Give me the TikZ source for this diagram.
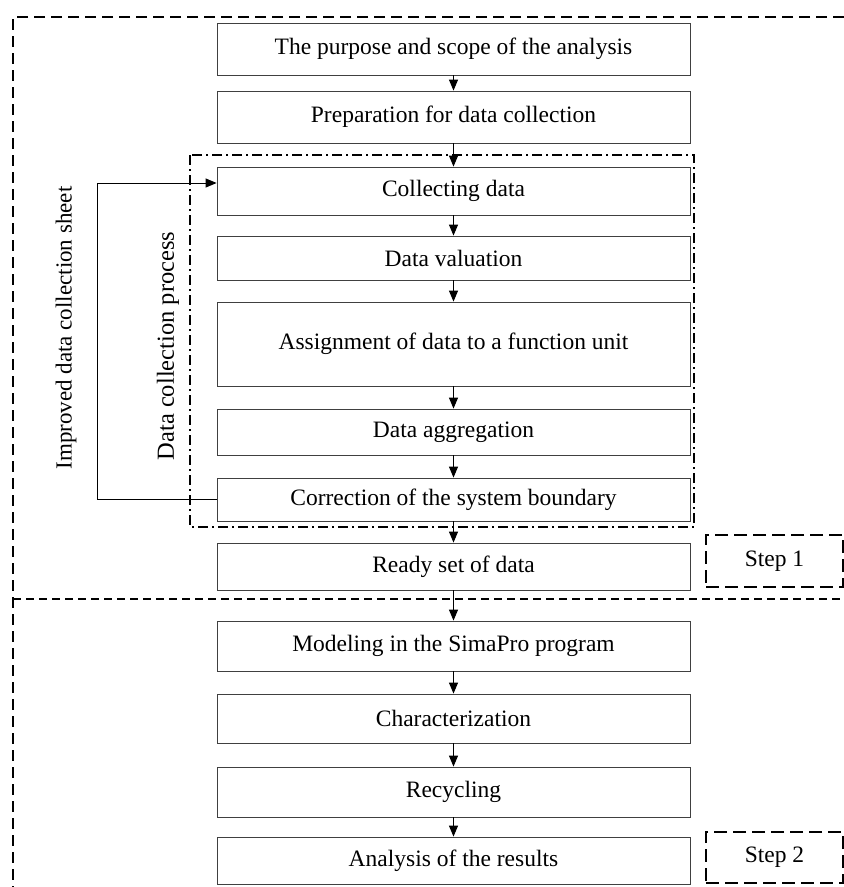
\documentclass[tikz,border=0pt]{standalone}
\usepackage{fontspec}
\setmainfont{Liberation Serif}
\usetikzlibrary{arrows.meta}
\tikzset{
  stage/.style={
    draw=black!75,
    line width=0.8pt,
    minimum width=473pt,
    inner sep=0pt,
    font=\fontsize{23.5}{28}\selectfont
  },
  flow/.style={
    line width=1pt,
    -{Triangle[length=11pt,width=9pt]}
  },
  outer frame/.style={
    line width=2.2pt,
    dash pattern=on 11pt off 6pt
  },
  process frame/.style={
    line width=2pt,
    dash pattern=on 10pt off 4pt on 2pt off 4pt
  },
  step label/.style={
    draw,
    line width=2.2pt,
    dash pattern=on 13pt off 6pt,
    minimum width=137pt,
    inner sep=0pt,
    font=\fontsize{23.5}{28}\selectfont
  },
  side label/.style={
    rotate=90,
    font=\fontsize{23}{28}\selectfont
  }
}

\begin{document}
\begin{tikzpicture}[x=1pt,y=-1pt]
  \useasboundingbox (0,0) rectangle (844,887);
  % frames
  \draw[outer frame] (844,17) -- (13,17) -- (13,887);
  \draw[process frame] (190,155) rectangle (694,527);
  \draw[line width=1.2pt,dash pattern=on 8pt off 5pt] (13,599) -- (840,599);
  % stages
  \node[stage,minimum height=52pt] (purpose) at (453.5,49) {The purpose and scope of the analysis};
  \node[stage,minimum height=52pt] (prepare) at (453.5,117) {Preparation for data collection};
  \node[stage,minimum height=48pt] (collect) at (453.5,191) {Collecting data};
  \node[stage,minimum height=44pt] (valuate) at (453.5,258) {Data valuation};
  \node[stage,minimum height=84pt] (assign) at (453.5,344) {Assignment of data to a function unit};
  \node[stage,minimum height=46pt] (aggregate) at (453.5,432) {Data aggregation};
  \node[stage,minimum height=43pt] (correct) at (453.5,499.5) {Correction of the system boundary};
  \node[stage,minimum height=47pt] (ready) at (453.5,566.5) {Ready set of data};
  \node[stage,minimum height=50pt] (model) at (453.5,646) {Modeling in the SimaPro program};
  \node[stage,minimum height=49pt] (charact) at (453.5,718.5) {Characterization};
  \node[stage,minimum height=50pt] (recycle) at (453.5,792) {Recycling};
  \node[stage,minimum height=47pt] (analyse) at (453.5,860.5) {Analysis of the results};
  % steps
  \node[step label,minimum height=52pt] (step1) at (774.5,561) {Step 1};
  \node[step label,minimum height=51pt] (step2) at (774.5,857.5) {Step 2};
  % side labels
  \node[side label] (sheet) at (66,328) {Improved data collection sheet};
  \node[side label,font=\fontsize{24.5}{29}\selectfont] (process) at (168,346) {Data collection process};
  % arrows
  \foreach \a/\b in {purpose/prepare,prepare/collect,collect/valuate,valuate/assign,
    assign/aggregate,aggregate/correct,correct/ready,ready/model,model/charact,
    charact/recycle,recycle/analyse}
    \draw[flow] (\a.south) -- (\b.north);
  \draw[flow] (correct.west) -- ++(-119,0) |- ([yshift=8pt]collect.west);
\end{tikzpicture}
\end{document}
